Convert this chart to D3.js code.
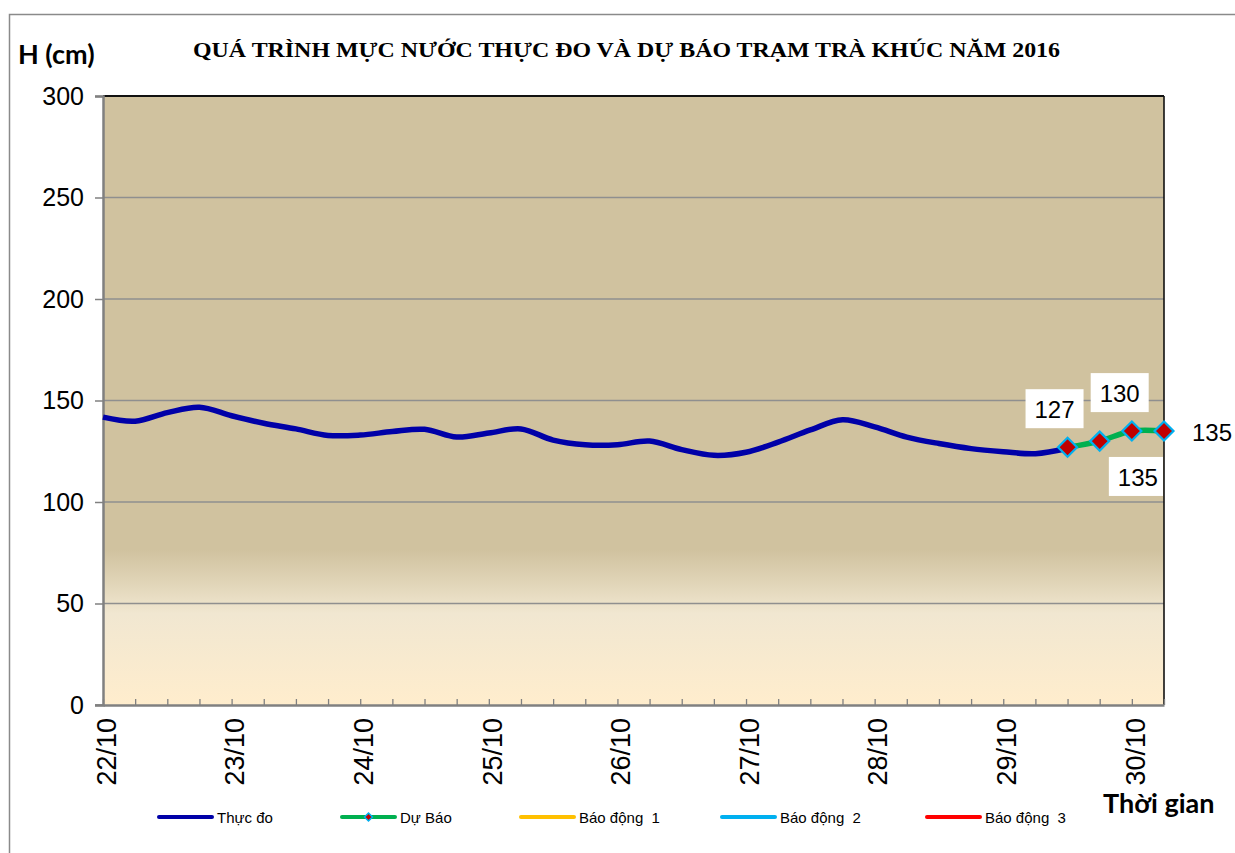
<!DOCTYPE html>
<html><head><meta charset="utf-8">
<script src="https://cdn.jsdelivr.net/npm/d3@7"></script>
<style>body{margin:0;background:#fff;overflow:hidden}</style>
</head><body>
<svg id="c" width="1235" height="853"></svg>
<script>
// ---------- DATA ----------
const categories = [
  "22/10 00h","22/10 06h","22/10 12h","22/10 18h",
  "23/10 00h","23/10 06h","23/10 12h","23/10 18h",
  "24/10 00h","24/10 06h","24/10 12h","24/10 18h",
  "25/10 00h","25/10 06h","25/10 12h","25/10 18h",
  "26/10 00h","26/10 06h","26/10 12h","26/10 18h",
  "27/10 00h","27/10 06h","27/10 12h","27/10 18h",
  "28/10 00h","28/10 06h","28/10 12h","28/10 18h",
  "29/10 00h","29/10 06h","29/10 12h","29/10 18h",
  "30/10 00h","30/10 06h"
];
const dayTickCats = ["22/10 00h","23/10 00h","24/10 00h","25/10 00h","26/10 00h","27/10 00h","28/10 00h","29/10 00h","30/10 00h"];
const dayTickLabels = ["22/10","23/10","24/10","25/10","26/10","27/10","28/10","29/10","30/10"];
const observedCats = categories.slice(0, 31);
const observed = [141.8,139.8,144,146.7,142.5,138.8,136,132.8,133,134.7,135.8,132,134,136,130.5,128.2,
                  128.2,130,125.8,123,124.5,129.5,135.5,140.5,137,132,128.8,126.3,124.8,123.8,126.5];
const forecastCats = ["29/10 12h","29/10 18h","30/10 00h","30/10 06h"];
const forecast = [127,130,135,135];
const yTicks = [0,50,100,150,200,250,300];
const legendNames = ["Thực đo","Dự Báo","Báo động  1","Báo động  2","Báo động  3"];
const legendColors = ["#0000A8","#00B050","#FFC000","#00B0F0","#FF0000"];
const titleText = "QUÁ TRÌNH MỰC NƯỚC THỰC ĐO VÀ DỰ BÁO TRẠM TRÀ KHÚC NĂM 2016";

// ---------- LAYOUT ----------
const plot = {l:103, r:1164, t:96, b:705};
const labelOffsets = [[-13,-38],[20,-48],[6,46],[48,1]]; // data label placement
const labelBoxed = [true,true,true,false];

const svg = d3.select("#c");
const defs = svg.append("defs");
const grad = defs.append("linearGradient").attr("id","bg").attr("x1",0).attr("y1",0).attr("x2",0).attr("y2",1);
[[0,"#D0C29F"],[0.745,"#D0C29F"],[0.8,"#E1D5B8"],[0.85,"#F1E7D1"],[1,"#FFEDCD"]].forEach(s=>
  grad.append("stop").attr("offset",s[0]).attr("stop-color",s[1]));

// outer frame
svg.append("rect").attr("x",9.5).attr("y",14.5).attr("width",1400).attr("height",1000)
  .attr("fill","#fff").attr("stroke","#8a8a8a").attr("stroke-width",1.5);

const x = d3.scalePoint().domain(categories).range([plot.l, plot.r]);
const y = d3.scaleLinear().domain([0,300]).range([plot.b, plot.t]);

// plot background
svg.append("rect").attr("x",plot.l).attr("y",plot.t).attr("width",plot.r-plot.l).attr("height",plot.b-plot.t)
  .attr("fill","url(#bg)");

// gridlines
svg.append("g").selectAll("line").data(yTicks.filter(d=>d>0 && d<300)).join("line")
  .attr("x1",plot.l).attr("x2",plot.r).attr("y1",d=>y(d)).attr("y2",d=>y(d))
  .attr("stroke","#8f8f8f").attr("stroke-width",1.6);

// top & right border
svg.append("line").attr("x1",plot.l).attr("x2",plot.r).attr("y1",plot.t).attr("y2",plot.t).attr("stroke","#111").attr("stroke-width",2);
svg.append("line").attr("x1",plot.r).attr("x2",plot.r).attr("y1",plot.t).attr("y2",plot.b).attr("stroke","#111").attr("stroke-width",1.6);

// y axis
const yAxis = svg.append("g").attr("transform",`translate(${plot.l},0)`)
  .call(d3.axisLeft(y).tickValues(yTicks).tickSize(8).tickPadding(11).tickFormat(d3.format("d")));
yAxis.select(".domain").attr("stroke","#808080").attr("stroke-width",2.5);
yAxis.selectAll(".tick line").attr("stroke","#808080").attr("stroke-width",1.5);
yAxis.selectAll(".tick text").attr("font-family","Liberation Sans, Arial, sans-serif").attr("font-size",25).attr("fill","#000");

// x axis (inner ticks)
const xAxis = svg.append("g").attr("transform",`translate(0,${plot.b})`)
  .call(d3.axisBottom(x).tickSize(-6).tickSizeOuter(0).tickFormat(""));
xAxis.select(".domain").attr("stroke","#808080").attr("stroke-width",2.5);
xAxis.selectAll(".tick line").attr("stroke","#808080").attr("stroke-width",1.3);
svg.append("line").attr("x1",plot.l-8).attr("x2",plot.l).attr("y1",plot.b).attr("y2",plot.b).attr("stroke","#808080").attr("stroke-width",1.5);

svg.append("g").selectAll("text").data(dayTickCats).join("text")
  .attr("transform",d=>`translate(${x(d)+3},${plot.b+13}) rotate(-90)`)
  .attr("text-anchor","end").attr("dy","0.36em")
  .attr("font-family","Liberation Sans, Arial, sans-serif").attr("font-size",27).attr("fill","#000")
  .text((d,i)=>dayTickLabels[i]);

// observed line
const lineGen = d3.line().x(d=>x(d[0])).y(d=>y(d[1])).curve(d3.curveCatmullRom.alpha(0.5));
svg.append("path").datum(observedCats.map((c,i)=>[c,observed[i]]))
  .attr("d",lineGen).attr("fill","none").attr("stroke",legendColors[0]).attr("stroke-width",5.5).attr("stroke-linejoin","round");

// forecast line
const fData = forecastCats.map((c,i)=>[c,forecast[i]]);
svg.append("path").datum(fData)
  .attr("d",lineGen).attr("fill","none").attr("stroke",legendColors[1]).attr("stroke-width",5.5);

const diamond = d3.symbol().type(d3.symbolDiamond2).size(230);
svg.append("g").selectAll("path").data(fData).join("path")
  .attr("transform",d=>`translate(${x(d[0])},${y(d[1])})`)
  .attr("d",diamond).attr("fill","#C00000").attr("stroke","#00B0F0").attr("stroke-width",2.2);

// data labels
const lab = svg.append("g");
fData.forEach((d,i)=>{
  const cx = x(d[0]) + labelOffsets[i][0], cy = y(d[1]) + labelOffsets[i][1];
  if (labelBoxed[i]) {
    let bx = cx-29, bw = 58;
    if (bx+bw > plot.r) bw = plot.r - bx - 1;
    lab.append("rect").attr("x",bx).attr("y",cy-20).attr("width",bw).attr("height",39).attr("fill","#fff");
  }
  lab.append("text").attr("x",cx).attr("y",cy).attr("dy","0.36em").attr("text-anchor","middle")
    .attr("font-family","Liberation Sans, Arial, sans-serif").attr("font-size",24).attr("fill","#000").text(d[1]);
});

// title
svg.append("text").attr("x",193).attr("y",57).attr("textLength",867).attr("lengthAdjust","spacingAndGlyphs")
  .attr("font-family","Liberation Serif, Times New Roman, serif").attr("font-weight","bold").attr("font-size",22)
  .attr("fill","#000").text(titleText);

// axis titles
svg.append("text").attr("x",18).attr("y",64).attr("font-family","Lato, sans-serif").attr("font-weight","bold")
  .attr("font-size",27).attr("fill","#000").text("H (cm)");
svg.append("text").attr("x",1103).attr("y",813).attr("font-family","Lato, sans-serif").attr("font-weight","bold")
  .attr("font-size",27).attr("fill","#000").text("Thời gian");

// legend
const legX = [159,342,521,722,927];
const leg = svg.append("g");
legendNames.forEach((n,i)=>{
  const g = leg.append("g").attr("transform",`translate(${legX[i]},817)`);
  g.append("line").attr("x1",0).attr("x2",53).attr("y1",0).attr("y2",0).attr("stroke",legendColors[i]).attr("stroke-width",4).attr("stroke-linecap","round");
  if (i===1) g.append("path").attr("transform","translate(26.5,0)").attr("d",d3.symbol().type(d3.symbolDiamond2).size(40))
      .attr("fill","#C00000").attr("stroke","#00B0F0").attr("stroke-width",1.5);
  g.append("text").attr("x",58).attr("y",6).attr("font-family","Liberation Sans, Arial, sans-serif").attr("font-size",15)
    .attr("fill","#000").style("white-space","pre").text(n);
});
</script>
</body></html>
